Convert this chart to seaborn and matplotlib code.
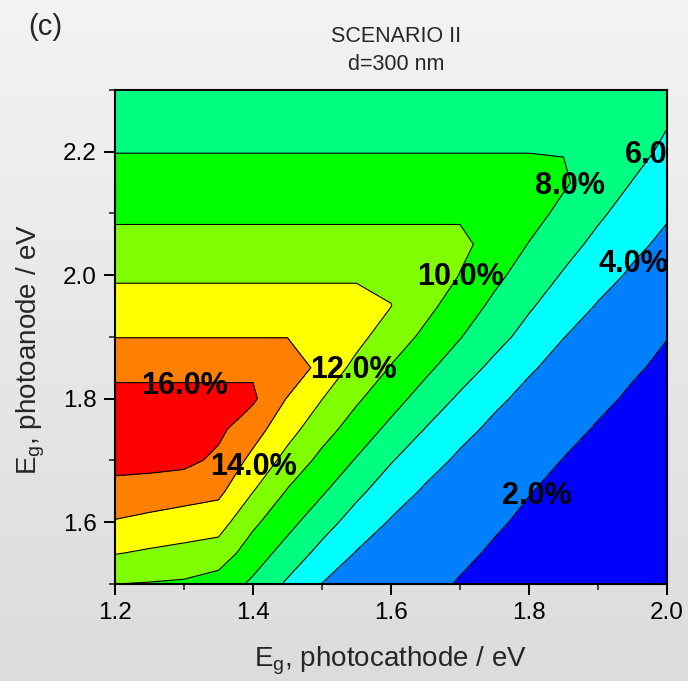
import numpy as np
import pandas as pd
import matplotlib
matplotlib.use("Agg")
import matplotlib.pyplot as plt
import seaborn as sns
from matplotlib.colors import LinearSegmentedColormap
from matplotlib.ticker import MultipleLocator

# band gaps on the grid (eV)
eg_cathode = [1.20, 1.25, 1.30, 1.35, 1.40, 1.45, 1.50, 1.55, 1.60,
              1.65, 1.70, 1.75, 1.80, 1.85, 1.90, 1.95, 2.00]
eg_anode = [1.50, 1.55, 1.60, 1.65, 1.70, 1.75, 1.80, 1.85, 1.90,
            1.95, 2.00, 2.05, 2.10, 2.15, 2.20, 2.25, 2.30]

# STH efficiency (%), one row per photoanode band gap
sth_eff = [
    [10.02, 9.90, 9.75, 9.15, 7.65, 5.71, 3.97, 3.44, 2.91, 2.38, 1.90, 1.55, 1.20, 0.85, 0.50, 0.15, 0.10],
    [12.10, 11.75, 11.45, 11.10, 9.02, 7.23, 5.39, 3.90, 3.36, 2.82, 2.28, 1.83, 1.48, 1.13, 0.78, 0.43, 0.10],
    [13.85, 13.50, 13.15, 12.85, 10.39, 8.61, 6.84, 5.13, 3.84, 3.28, 2.72, 2.17, 1.76, 1.41, 1.06, 0.71, 0.36],
    [15.60, 15.10, 14.80, 14.45, 12.05, 9.86, 8.24, 6.47, 4.89, 3.77, 3.20, 2.62, 2.05, 1.68, 1.33, 0.98, 0.63],
    [16.40, 16.65, 16.50, 15.60, 13.48, 11.35, 9.46, 7.86, 6.14, 4.69, 3.69, 3.11, 2.52, 1.96, 1.61, 1.26, 0.91],
    [16.50, 16.50, 16.50, 16.40, 14.81, 12.71, 10.78, 9.09, 7.52, 5.92, 4.51, 3.61, 3.01, 2.40, 1.88, 1.53, 1.18],
    [16.30, 16.30, 16.30, 16.30, 16.30, 13.89, 12.04, 10.28, 8.74, 7.21, 5.70, 4.34, 3.53, 2.91, 2.29, 1.81, 1.46],
    [15.72, 15.72, 15.72, 15.72, 15.72, 15.68, 13.19, 11.51, 9.88, 8.41, 6.94, 5.52, 4.19, 3.45, 2.80, 2.16, 1.74],
    [13.95, 13.95, 13.95, 13.95, 13.95, 13.95, 13.95, 12.53, 11.04, 9.56, 8.09, 6.67, 5.32, 4.03, 3.35, 2.69, 2.03],
    [12.85, 12.85, 12.85, 12.85, 12.85, 12.85, 12.85, 12.85, 12.03, 10.54, 9.04, 7.58, 6.22, 4.98, 3.87, 3.21, 2.55],
    [11.70, 11.70, 11.70, 11.70, 11.70, 11.70, 11.70, 11.70, 11.70, 11.50, 9.94, 8.47, 7.12, 5.84, 4.69, 3.74, 3.07],
    [10.45, 10.45, 10.45, 10.45, 10.45, 10.45, 10.45, 10.45, 10.45, 10.45, 10.45, 9.29, 7.93, 6.69, 5.52, 4.42, 3.59],
    [9.75, 9.75, 9.75, 9.75, 9.75, 9.75, 9.75, 9.75, 9.75, 9.75, 9.75, 9.75, 8.73, 7.50, 6.30, 5.22, 4.19],
    [9.00, 9.00, 9.00, 9.00, 9.00, 9.00, 9.00, 9.00, 9.00, 9.00, 9.00, 9.00, 9.00, 8.24, 7.08, 5.94, 4.95],
    [7.95, 7.95, 7.95, 7.95, 7.95, 7.95, 7.95, 7.95, 7.95, 7.95, 7.95, 7.95, 7.95, 7.95, 7.81, 6.65, 5.60],
    [7.20, 7.20, 7.20, 7.20, 7.20, 7.20, 7.20, 7.20, 7.20, 7.20, 7.20, 7.20, 7.20, 7.20, 7.20, 7.20, 6.14],
    [6.50, 6.50, 6.50, 6.50, 6.50, 6.50, 6.50, 6.50, 6.50, 6.50, 6.50, 6.50, 6.50, 6.50, 6.50, 6.50, 6.50],
]

levels = [0, 2, 4, 6, 8, 10, 12, 14, 16, 18]
level_labels = ["2.0%", "4.0%", "6.0%", "8.0%", "10.0%", "12.0%", "14.0%", "16.0%"]

# where the contour labels sit (centre x, baseline y)
label_x = [1.811, 1.951, 1.990, 1.859, 1.701, 1.546, 1.401, 1.301]
label_y = [1.630, 2.005, 2.182, 2.132, 1.984, 1.833, 1.676, 1.808]

fill_colors = ["#0000ff", "#0080ff", "#00ffff", "#00ff80", "#00ff00",
               "#80ff00", "#ffff00", "#ff8000", "#ff0000"]

sns.set_theme(style="ticks")
plt.rcParams["font.family"] = ["Liberation Sans", "DejaVu Sans"]
plt.rcParams["mathtext.fontset"] = "custom"
plt.rcParams["mathtext.rm"] = "Liberation Sans"

df = pd.DataFrame(sth_eff, index=eg_anode, columns=eg_cathode)

fig = plt.figure(figsize=(6.88, 6.81), dpi=100)

# grey gradient background
bg = fig.add_axes([0, 0, 1, 1], zorder=-10)
grad = np.linspace(0, 1, 256).reshape(-1, 1)
bg.imshow(grad, aspect="auto", extent=[0, 1, 0, 1],
          cmap=LinearSegmentedColormap.from_list("bg", ["#f3f3f3", "#dcdcdc"]))
bg.axis("off")

ax = fig.add_axes([0.1672, 0.1428, 0.8023, 0.725])
ax.contourf(df.columns.values, df.index.values, df.values,
            levels=levels, colors=fill_colors)
ax.contour(df.columns.values, df.index.values, df.values,
           levels=levels[1:-1], colors="black", linewidths=0.8)

for txt, lx, ly in zip(level_labels, label_x, label_y):
    ax.text(lx, ly, txt, ha="center", va="baseline", fontsize=22,
            fontweight="bold", color="black", clip_on=True)

ax.set_xlim(1.2, 2.0)
ax.set_ylim(1.5, 2.3)
ax.xaxis.set_major_locator(MultipleLocator(0.2))
ax.xaxis.set_minor_locator(MultipleLocator(0.1))
ax.yaxis.set_major_locator(MultipleLocator(0.2))
ax.yaxis.set_minor_locator(MultipleLocator(0.1))
ax.xaxis.set_major_formatter(plt.FuncFormatter(lambda v, p: f"{v:.1f}"))
ax.yaxis.set_major_formatter(plt.FuncFormatter(lambda v, p: f"{v:.1f}"))
ax.tick_params(which="major", direction="out", length=8, width=1.4,
               labelsize=17.5, colors="black", top=False, right=False, pad=5)
ax.tick_params(which="minor", direction="out", length=4.3, width=1.2,
               top=False, right=False)
for sp in ax.spines.values():
    sp.set_linewidth(1.5)
    sp.set_color("black")

fig.text(0.567, 0.021, r"E$_\mathregular{g}$, photocathode / eV",
         ha="center", va="baseline", fontsize=20)
fig.text(0.045, 0.487, r"E$_\mathregular{g}$, photoanode / eV",
         ha="center", va="center", fontsize=20, rotation=90)
fig.text(0.576, 0.938, "SCENARIO II", ha="center", va="baseline", fontsize=15.5)
fig.text(0.576, 0.897, "d=300 nm", ha="center", va="baseline", fontsize=15.5)
fig.text(0.066, 0.960, "(c)", ha="center", va="center", fontsize=21)

fig.savefig("out.png", dpi=100)
